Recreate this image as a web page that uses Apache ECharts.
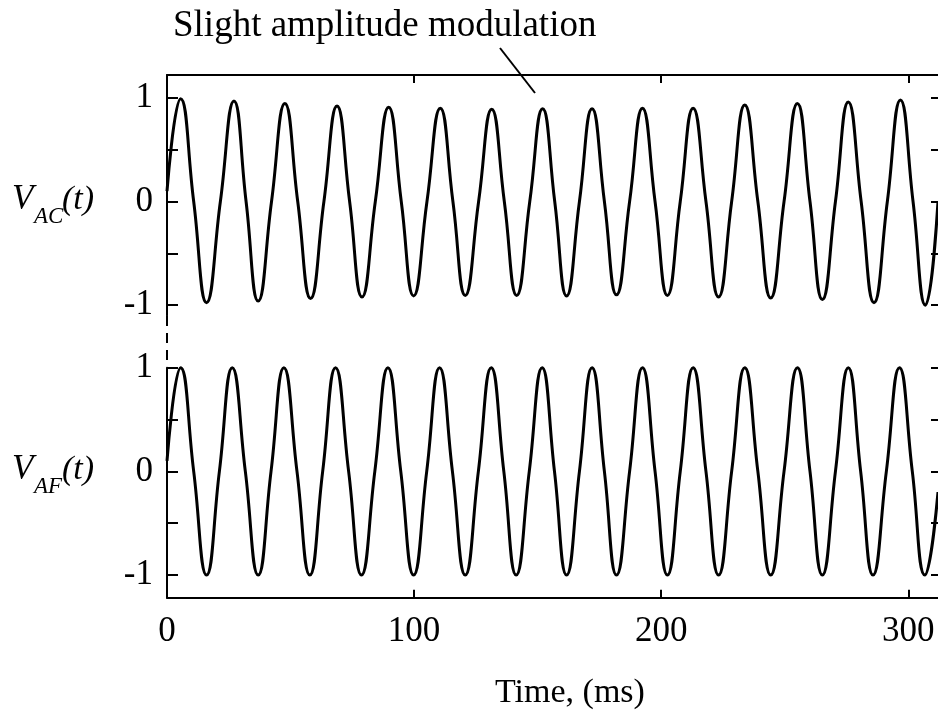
<!DOCTYPE html>
<html>
<head>
<meta charset="utf-8">
<script src="https://cdn.jsdelivr.net/npm/echarts@6/dist/echarts.min.js"></script>
<style>
  html, body { margin: 0; padding: 0; background: #fff; }
  #chart { width: 938px; height: 726px; }
</style>
</head>
<body>
<div id="chart"></div>
<script>
// axis ticks
const timeTicks = [0, 100, 200, 300]
const timeMinorTicks = [100, 200, 300]
const voltTicks = [-1, -0.5, 0, 0.5, 1]
const voltLabels = [-1, 0, 1]

// V_AC(t): peak / zero / trough / zero (ms, V)
const acTime = [0, 5.5, 10.8, 16.0, 21.6, 27.1, 32.0, 36.9, 42.3, 47.7, 52.9, 58.1, 63.5, 68.8, 73.9, 78.9,
  84.3, 89.7, 94.8, 99.8, 105.2, 110.6, 115.7, 120.7, 126.1, 131.4, 136.5, 141.5, 146.8, 152.0, 156.9, 161.7,
  166.9, 172.0, 177.0, 181.9, 187.2, 192.4, 197.5, 202.5, 207.7, 212.9, 218.1, 223.2, 228.5, 233.8, 239.1,
  244.3, 249.7, 255.1, 260.2, 265.2, 270.5, 275.7, 280.9, 286.1, 291.5, 296.8, 301.9, 306.9, 312]
const acValue = [0.1, 0.99, 0, -0.975, 0, 0.97, 0, -0.96, 0, 0.945, 0, -0.935, 0, 0.92, 0, -0.92,
  0, 0.91, 0, -0.91, 0, 0.90, 0, -0.905, 0, 0.89, 0, -0.905, 0, 0.895, 0, -0.91,
  0, 0.895, 0, -0.90, 0, 0.90, 0, -0.905, 0, 0.90, 0, -0.92, 0, 0.93, 0,
  -0.93, 0, 0.945, 0, -0.945, 0, 0.96, 0, -0.975, 0, 0.98, 0, -1.0, 0]

// V_AF(t)
const afTime = [0, 5.5, 10.8, 16.0, 21.2, 26.4, 31.7, 36.9, 42.1, 47.3, 52.6, 57.8, 63.0, 68.2, 73.5, 78.7,
  84.1, 89.4, 94.6, 99.8, 105.1, 110.3, 115.5, 120.7, 126.0, 131.2, 136.3, 141.3, 146.6, 151.8, 156.8, 161.7,
  166.9, 172.0, 177.0, 181.9, 187.2, 192.4, 197.5, 202.5, 207.7, 212.9, 218.1, 223.2, 228.5, 233.8, 239.1,
  244.3, 249.7, 255.1, 260.2, 265.2, 270.5, 275.7, 280.7, 285.7, 291.1, 296.4, 301.6, 306.7, 312]
const afValue = [0.1, 1, 0, -1, 0, 1, 0, -1, 0, 1, 0, -1, 0, 1, 0, -1,
  0, 1, 0, -1, 0, 1, 0, -1, 0, 1, 0, -1, 0, 1, 0, -1,
  0, 1, 0, -1, 0, 1, 0, -1, 0, 1, 0, -1, 0, 1, 0,
  -1, 0, 1, 0, -1, 0, 1, 0, -1, 0, 1, 0, -1, -0.2]

const serif = "'Liberation Serif', 'Times New Roman', serif"
const black = '#000'

const chart = echarts.init(document.getElementById('chart'))

const pairs = (ts, vs) => ts.map((t, i) => [t, vs[i]])

const timeAxis = (gridIndex, position, showLabel) => ({
  type: 'value',
  gridIndex: gridIndex,
  position: position,
  min: 0,
  max: 312,
  axisLine: { onZero: false, lineStyle: { color: black, width: 2 } },
  axisTick: { inside: true, length: 8, customValues: timeMinorTicks, lineStyle: { color: black, width: 2 } },
  axisLabel: {
    show: showLabel,
    customValues: timeTicks,
    margin: 17,
    color: black,
    fontSize: 35,
    fontFamily: serif
  },
  splitLine: { show: false }
})

const voltAxis = (gridIndex, position, min, max) => ({
  type: 'value',
  gridIndex: gridIndex,
  position: position,
  min: min,
  max: max,
  axisLine: { show: position === 'left', onZero: false, lineStyle: { color: black, width: 2 } },
  axisTick: {
    inside: true,
    length: position === 'left' ? 11 : 7,
    customValues: voltTicks,
    lineStyle: { color: black, width: 2 }
  },
  axisLabel: {
    show: position === 'left',
    customValues: voltLabels,
    margin: 14,
    color: black,
    fontSize: 35,
    fontFamily: serif
  },
  splitLine: { show: false }
})

const curve = (idx, data) => ({
  type: 'line',
  xAxisIndex: idx,
  yAxisIndex: idx * 2,
  data: data,
  showSymbol: false,
  smooth: 0.5,
  clip: false,
  lineStyle: { color: black, width: 3 }
})

const text = (x, y, str, font) => ({
  type: 'text',
  x: x,
  y: y,
  z: 10,
  style: { text: str, font: font, fill: black, align: 'left', verticalAlign: 'middle' }
})

const option = {
  animation: false,
  backgroundColor: '#fff',
  grid: [
    { left: 167, top: 75, width: 772, height: 240.6 },
    { left: 167, top: 367.7, width: 772, height: 230.1 }
  ],
  xAxis: [timeAxis(0, 'top', false), timeAxis(1, 'bottom', true)],
  yAxis: [
    voltAxis(0, 'left', -1.1, 1.22),
    voltAxis(0, 'right', -1.1, 1.22),
    voltAxis(1, 'left', -1.22, 1),
    voltAxis(1, 'right', -1.22, 1)
  ],
  series: [
    curve(0, pairs(acTime, acValue)),
    curve(1, pairs(afTime, afValue))
  ],
  graphic: [
    text(173, 26, 'Slight amplitude modulation', '37px ' + serif),
    { type: 'line', z: 10, shape: { x1: 500, y1: 48, x2: 535, y2: 93 }, style: { stroke: black, lineWidth: 2 } },
    { type: 'line', z: 10, shape: { x1: 167, y1: 316, x2: 167, y2: 367 }, style: { stroke: black, lineWidth: 2, lineDash: [10, 7] } },
    text(12, 200, 'V', 'italic 35px ' + serif),
    text(34, 217, 'AC', 'italic 23px ' + serif),
    text(62, 200, '(t)', 'italic 34px ' + serif),
    text(12, 470, 'V', 'italic 35px ' + serif),
    text(34, 487, 'AF', 'italic 23px ' + serif),
    text(62, 470, '(t)', 'italic 34px ' + serif),
    text(495, 693, 'Time, (ms)', '34px ' + serif)
  ]
}

chart.setOption(option)
</script>
</body>
</html>
